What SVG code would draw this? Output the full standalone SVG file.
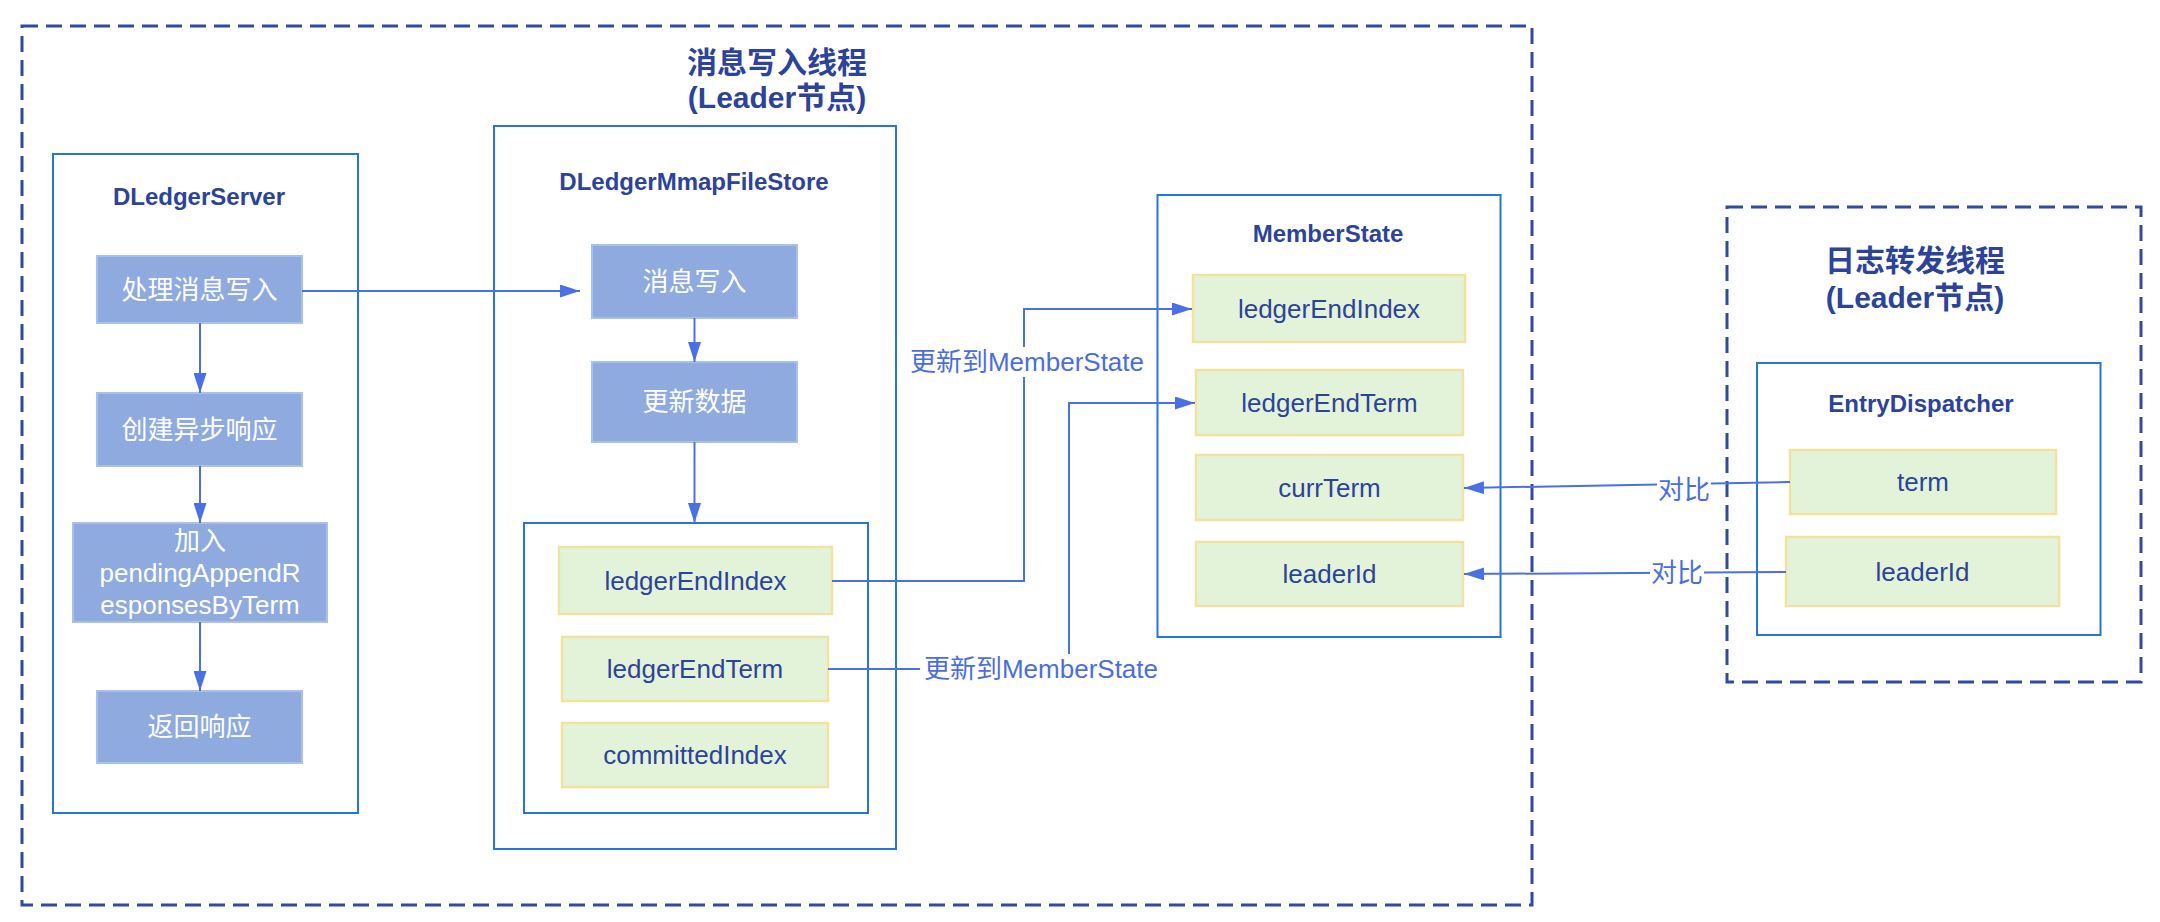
<svg xmlns="http://www.w3.org/2000/svg" width="2160" height="922" viewBox="0 0 2160 922">
<style>
text{font-family:"Liberation Sans","Noto Sans CJK SC",sans-serif;dominant-baseline:central;text-anchor:middle}
.dash{fill:none;stroke:#2f4a9f;stroke-width:3;stroke-dasharray:16 8}
.cont{fill:#fff;stroke:#2775d4;stroke-width:2}
.blue{fill:#8eaadf;stroke:#a9c0ea;stroke-width:2}
.green{fill:#e3f3da;stroke:#f1e2a0;stroke-width:2.5}
.title{font-size:30px;font-weight:bold;fill:#2d439a}
.ctitle{font-size:24px;font-weight:bold;fill:#2d439a}
.wt{font-size:26px;fill:#fff}
.gt{font-size:26px;fill:#2d439a}
.edge{fill:none;stroke:#4a70e3;stroke-width:2}
.lbl{font-size:26px;fill:#4a6ee0}
.lbg{fill:#fff}
</style>
<defs>
<marker id="arr" markerUnits="userSpaceOnUse" markerWidth="20" markerHeight="13" refX="20" refY="6.5" orient="auto" viewBox="0 0 20 13">
<path d="M0,0 L20,6.5 L0,13 z" fill="#4a70e3"/>
</marker>
</defs>

<g id="thread-write">
<rect class="dash" x="22" y="26" width="1510" height="879"/>
<text class="title" x="777" y="62">消息写入线程</text>
<text class="title" x="777" y="97">(Leader节点)</text>
</g>
<g id="thread-dispatch">
<rect class="dash" x="1727" y="207" width="414" height="475"/>
<text class="title" x="1915" y="260">日志转发线程</text>
<text class="title" x="1915" y="297">(Leader节点)</text>
</g>

<g id="DLedgerServer">
<rect class="cont" x="53" y="154" width="305" height="659"/>
<text class="ctitle" x="199" y="196">DLedgerServer</text>
</g>
<g id="DLedgerMmapFileStore">
<rect class="cont" x="494" y="126" width="402" height="723"/>
<text class="ctitle" x="694" y="181">DLedgerMmapFileStore</text>
</g>
<g id="store-fields">
<rect class="cont" x="524" y="523" width="344" height="290"/>
</g>
<g id="MemberState">
<rect class="cont" x="1157.5" y="195" width="343" height="442"/>
<text class="ctitle" x="1328" y="233">MemberState</text>
</g>
<g id="EntryDispatcher">
<rect class="cont" x="1757" y="363" width="343.5" height="272"/>
<text class="ctitle" x="1921" y="403">EntryDispatcher</text>
</g>

<g id="n-handle"><rect class="blue" x="97" y="256" width="205" height="67"/><text class="wt" x="199.5" y="289.5">处理消息写入</text></g>
<g id="n-create"><rect class="blue" x="97" y="393" width="205" height="73"/><text class="wt" x="199.5" y="429.5">创建异步响应</text></g>
<g id="n-add"><rect class="blue" x="73" y="523" width="254" height="99"/>
<text class="wt" x="200" y="541">加入</text>
<text class="wt" x="200" y="573">pendingAppendR</text>
<text class="wt" x="200" y="605">esponsesByTerm</text></g>
<g id="n-return"><rect class="blue" x="97" y="691" width="205" height="72"/><text class="wt" x="199.5" y="727">返回响应</text></g>

<g id="n-write"><rect class="blue" x="592" y="245" width="205" height="73"/><text class="wt" x="694.5" y="281.5">消息写入</text></g>
<g id="n-update"><rect class="blue" x="592" y="362" width="205" height="80"/><text class="wt" x="694.5" y="402">更新数据</text></g>

<g id="s-ledgerEndIndex"><rect class="green" x="559" y="547" width="273" height="67"/><text class="gt" x="695.5" y="580.5">ledgerEndIndex</text></g>
<g id="s-ledgerEndTerm"><rect class="green" x="562" y="637" width="266" height="64"/><text class="gt" x="695" y="669">ledgerEndTerm</text></g>
<g id="s-committedIndex"><rect class="green" x="562" y="723" width="266" height="64"/><text class="gt" x="695" y="755">committedIndex</text></g>

<g id="m-ledgerEndIndex"><rect class="green" x="1193" y="275" width="272" height="67"/><text class="gt" x="1329" y="308.5">ledgerEndIndex</text></g>
<g id="m-ledgerEndTerm"><rect class="green" x="1196" y="370" width="267" height="65"/><text class="gt" x="1329.5" y="402.5">ledgerEndTerm</text></g>
<g id="m-currTerm"><rect class="green" x="1196" y="455" width="267" height="65"/><text class="gt" x="1329.5" y="487.5">currTerm</text></g>
<g id="m-leaderId"><rect class="green" x="1196" y="542" width="267" height="64"/><text class="gt" x="1329.5" y="574">leaderId</text></g>

<g id="e-term"><rect class="green" x="1790" y="450" width="266" height="64"/><text class="gt" x="1923" y="482">term</text></g>
<g id="e-leaderId"><rect class="green" x="1786" y="537" width="273" height="69"/><text class="gt" x="1922.5" y="571.5">leaderId</text></g>

<g id="connectors">
<path class="edge" d="M302,291 H580" marker-end="url(#arr)"/>
<path class="edge" d="M200,323 V393" marker-end="url(#arr)"/>
<path class="edge" d="M200,466 V523" marker-end="url(#arr)"/>
<path class="edge" d="M200,622 V691" marker-end="url(#arr)"/>
<path class="edge" d="M694.5,318 V362" marker-end="url(#arr)"/>
<path class="edge" d="M694.5,442 V523" marker-end="url(#arr)"/>
<path class="edge" d="M832,581 H1024 V309 H1192" marker-end="url(#arr)"/>
<path class="edge" d="M828,669 H1069 V403 H1195" marker-end="url(#arr)"/>
<path class="edge" d="M1790,482 L1464,488" marker-end="url(#arr)"/>
<path class="edge" d="M1786,572 L1464,574" marker-end="url(#arr)"/>
<rect class="lbg" x="904" y="347" width="246" height="30"/>
<text class="lbl" x="1027" y="362">更新到MemberState</text>
<rect class="lbg" x="920" y="654" width="243" height="30"/>
<text class="lbl" x="1041" y="669">更新到MemberState</text>
<rect class="lbg" x="1657" y="475" width="54" height="30"/>
<text class="lbl" x="1684" y="490">对比</text>
<rect class="lbg" x="1650" y="558" width="54" height="30"/>
<text class="lbl" x="1677" y="573">对比</text>
</g>
</svg>
